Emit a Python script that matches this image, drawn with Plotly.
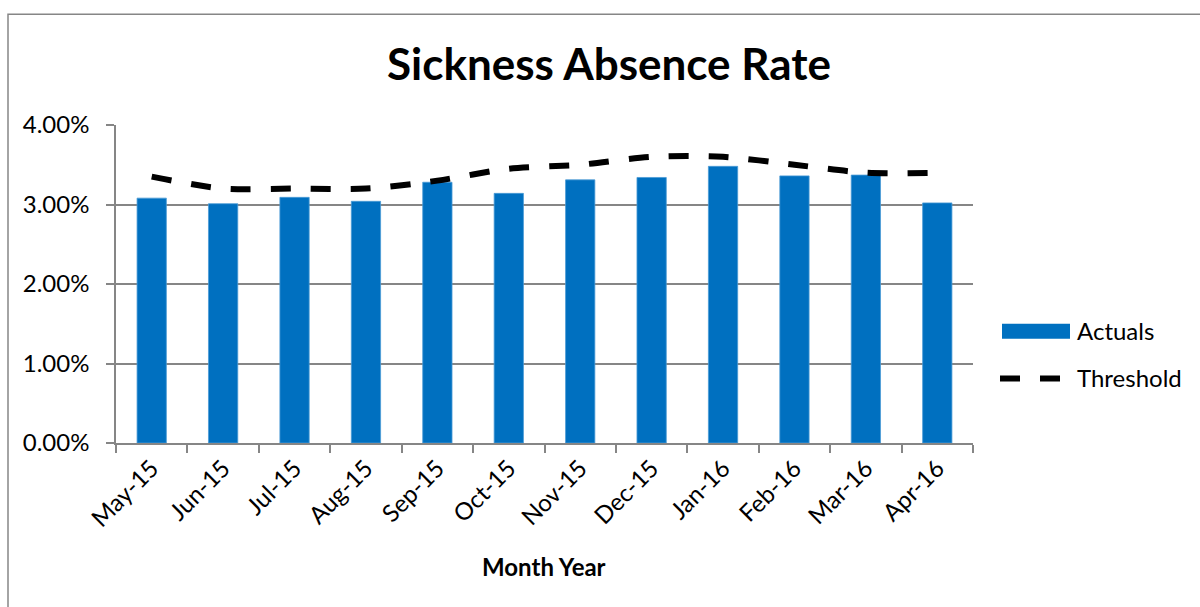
import plotly.graph_objects as go

months = ["May-15", "Jun-15", "Jul-15", "Aug-15", "Sep-15", "Oct-15",
          "Nov-15", "Dec-15", "Jan-16", "Feb-16", "Mar-16", "Apr-16"]
actuals = [0.0308, 0.0301, 0.0309, 0.0304, 0.0328, 0.0314,
           0.0331, 0.0334, 0.0348, 0.0336, 0.0337, 0.0302]
threshold = [0.0335, 0.0320, 0.0320, 0.0320, 0.0330, 0.0345,
             0.0350, 0.0360, 0.0360, 0.0350, 0.0340, 0.0340]
y_ticks = [0, 0.01, 0.02, 0.03, 0.04]

FONT = "Lato"
GRAY = "#868686"
BLUE = "#0070C0"

fig = go.Figure()
fig.add_trace(go.Bar(x=months, y=actuals, name="Actuals",
                     marker=dict(color=BLUE, line=dict(color="#4a9ad6", width=0.8)),
                     width=0.41, showlegend=False))
fig.add_trace(go.Scatter(x=months, y=threshold, name="Threshold", mode="lines",
                         line=dict(color="black", width=6, dash="20px,20px", shape="spline",
                                   smoothing=0.8),
                         showlegend=False))

L, R, T, B = 116, 227, 125, 163.5
W, H = 1200, 607
pw, ph = W - L - R, H - T - B

def px(x):
    return (x - L) / pw

def py(y):
    return (H - B - y) / ph

shapes = [
    # outer chart border
    dict(type="rect", xref="paper", yref="paper", x0=px(8), x1=px(1215), y0=py(625), y1=py(14),
         line=dict(color=GRAY, width=1.5), fillcolor="rgba(0,0,0,0)", layer="below"),
    # legend: Actuals swatch
    dict(type="rect", xref="paper", yref="paper", x0=px(1002), x1=px(1070), y0=py(339), y1=py(324),
         line=dict(width=0), fillcolor=BLUE),
    # legend: Threshold line
    dict(type="line", xref="paper", yref="paper", x0=px(1000), x1=px(1062), y0=py(379), y1=py(379),
         line=dict(color="black", width=6, dash="20px,20px")),
]
annotations = [
    dict(text="Actuals", xref="paper", yref="paper", x=px(1075), y=py(331), xanchor="left",
         yanchor="middle", showarrow=False, font=dict(family=FONT, size=24, color="black")),
    dict(text="Threshold", xref="paper", yref="paper", x=px(1075), y=py(378), xanchor="left",
         yanchor="middle", showarrow=False, font=dict(family=FONT, size=24, color="black")),
    dict(text="<b>Month Year</b>", xref="paper", yref="paper", x=px(544), y=py(567), xanchor="center",
         yanchor="middle", showarrow=False, font=dict(family=FONT, size=24, color="black")),
]

fig.update_layout(
    width=W, height=H,
    margin=dict(l=L, r=R, t=T, b=B),
    paper_bgcolor="white", plot_bgcolor="white",
    title=dict(text="<b>Sickness Absence Rate</b>", x=609 / W, xanchor="center",
               y=1 - 65 / H, yanchor="middle", font=dict(family=FONT, size=44, color="black")),
    font=dict(family=FONT, color="black"),
    bargap=0.59,
    shapes=shapes,
    annotations=annotations,
)
fig.update_xaxes(type="category", tickangle=-45, tickfont=dict(family=FONT, size=24),
                 showline=True, linecolor=GRAY, linewidth=1.5,
                 ticks="outside", tickson="boundaries", ticklen=8, tickcolor=GRAY, tickwidth=1.5,
                 showgrid=False, range=[-0.5, 11.5])
fig.update_yaxes(range=[0, 0.04], tickvals=y_ticks, tickformat=".2%",
                 tickfont=dict(family=FONT, size=24),
                 showline=True, linecolor=GRAY, linewidth=1.5,
                 ticks="outside", ticklen=8, tickcolor=GRAY, tickwidth=1.5,
                 showgrid=True, gridcolor=GRAY, gridwidth=1.5, zeroline=False,
                 ticklabelstandoff=12)

fig.write_html("out.html", config={"displayModeBar": False},
               post_script="document.body.style.margin='0';document.body.style.overflow='hidden';")
